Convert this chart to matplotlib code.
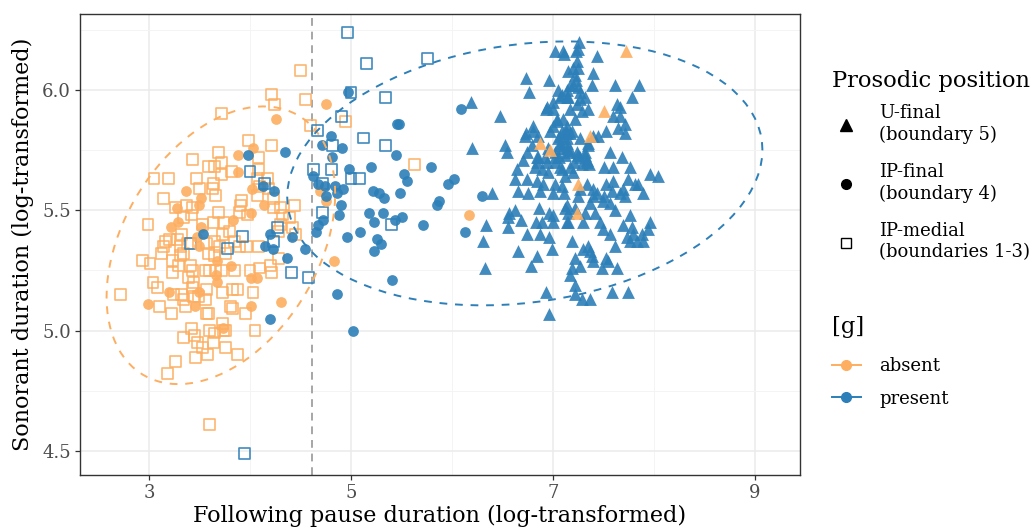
import numpy as np
import matplotlib
matplotlib.use("Agg")
import matplotlib.pyplot as plt
from matplotlib.lines import Line2D

plt.rcParams['font.family'] = ['DejaVu Serif']

# ---------------- data ----------------
# IP-medial (boundaries 1-3), [g] absent
sq_abs_x = [4.21,4.24,3.72,4.55,4.95,4.60,4.50,3.99,4.21,4.08,3.69,3.43,3.72,3.59,3.65,3.82,4.08,3.72,
            3.05,3.19,3.47,3.64,3.63,3.50,4.07,4.17,4.18,4.07,4.09,3.66,3.14,3.92,3.91,4.23,4.30,4.44,
            3.26,3.37,3.43,3.34,3.42,3.69,3.90,3.98,4.23,4.32,4.39,2.99,3.32,3.28,3.64,3.74,3.53,3.80,3.73,
            4.30,4.28,4.42,3.16,3.20,3.14,3.31,3.38,3.34,3.57,3.65,3.70,3.85,3.90,3.97,4.08,
            3.59,3.65,3.76,3.12,3.23,3.31,2.94,3.01,3.29,3.41,3.43,3.60,3.66,3.72,3.56,
            3.85,4.00,4.09,4.21,3.23,3.39,3.44,3.04,3.08,3.24,3.32,3.34,3.43,3.44,3.49,3.56,
            3.57,3.73,3.83,3.88,4.03,3.10,3.22,3.36,3.57,3.59,3.81,3.83,3.96,
            3.42,3.34,3.45,3.48,3.60,3.65,3.73,3.74,3.76,3.64,3.76,3.53,3.58,4.05,3.88,3.26,3.46,3.18,
            2.72,3.60,5.63,4.28,4.20,4.45]
sq_abs_y = [5.98,5.94,5.90,5.96,5.87,5.85,6.08,5.79,5.77,5.72,5.74,5.71,5.70,5.68,5.68,5.66,5.67,5.65,
            5.63,5.63,5.63,5.61,5.59,5.59,5.63,5.63,5.59,5.56,5.60,5.56,5.55,5.54,5.52,5.55,5.51,5.52,
            5.51,5.52,5.51,5.47,5.48,5.49,5.49,5.48,5.51,5.48,5.47,5.44,5.40,5.38,5.45,5.45,5.44,5.41,5.40,
            5.44,5.41,5.43,5.37,5.38,5.35,5.35,5.36,5.32,5.36,5.37,5.35,5.37,5.35,5.35,5.35,
            5.32,5.31,5.32,5.32,5.29,5.31,5.29,5.28,5.27,5.27,5.25,5.25,5.25,5.25,5.25,
            5.25,5.25,5.26,5.24,5.24,5.22,5.20,5.20,5.18,5.15,5.15,5.13,5.18,5.14,5.14,5.13,
            5.17,5.16,5.17,5.17,5.16,5.10,5.07,5.10,5.07,5.07,5.10,5.09,5.07,
            5.01,4.97,4.98,4.95,5.00,4.99,5.03,5.00,5.00,4.95,4.93,4.93,4.90,5.00,4.90,4.87,4.89,4.82,
            5.15,4.61,5.69,5.30,5.27,5.40]

# IP-medial, [g] present
sq_pre_x = [4.97,5.15,5.76,5.00,5.34,4.91,4.67,5.12,4.82,5.34,4.63,4.81,5.00,5.08,4.72,4.72,5.40,4.58,3.95,
            4.00,4.14,3.93,3.78,3.41,4.27,4.23,4.41]
sq_pre_y = [6.24,6.11,6.13,5.99,5.97,5.89,5.83,5.80,5.77,5.77,5.67,5.67,5.63,5.63,5.61,5.49,5.44,5.22,4.49,
            5.66,5.61,5.39,5.34,5.36,5.43,5.37,5.24]

# IP-final (boundary 4), [g] absent
ci_abs_x = [4.26,4.03,3.88,3.37,3.52,3.50,3.28,3.29,3.22,4.01,3.83,4.02,3.88,4.14,3.52,3.48,3.50,3.67,3.81,
            3.66,4.01,4.07,3.67,3.20,3.50,2.99,3.46,4.01,4.31,3.73,4.83,4.75,4.75,6.17,4.69]
ci_abs_y = [5.88,5.76,5.73,5.58,5.55,5.52,5.51,5.45,5.43,5.49,5.46,5.59,5.66,5.52,5.43,5.39,5.35,5.29,5.27,
            5.23,5.22,5.22,5.20,5.16,5.16,5.11,5.10,5.10,5.12,5.01,5.29,5.54,5.94,5.48,5.58]

# IP-final, [g] present
ci_pre_x = [4.97,4.80,4.71,4.91,4.81,5.45,5.46,5.48,5.20,4.98,4.62,4.67,4.74,4.84,4.92,4.86,4.75,4.90,4.88,
            4.72,4.67,4.65,4.96,5.09,5.22,5.28,5.33,5.49,5.53,5.55,5.79,5.18,5.23,5.32,5.44,5.51,5.71,
            5.26,5.30,5.23,5.85,5.87,5.96,6.02,6.09,6.13,6.30,4.54,4.86,5.41,5.02,
            3.98,4.35,4.24,4.13,4.42,4.20,4.15,4.23,3.53,4.37,4.20]
ci_pre_y = [5.99,5.81,5.77,5.76,5.72,5.73,5.86,5.86,5.68,5.67,5.64,5.61,5.60,5.60,5.59,5.57,5.56,5.52,5.48,
            5.46,5.44,5.41,5.39,5.41,5.58,5.57,5.55,5.57,5.65,5.62,5.68,5.49,5.45,5.49,5.46,5.47,5.44,
            5.38,5.36,5.33,5.52,5.54,5.61,5.63,5.92,5.41,5.56,5.34,5.15,5.21,5.00,
            5.73,5.74,5.58,5.60,5.39,5.40,5.35,5.34,5.40,5.30,5.05]

# U-final (boundary 5), [g] absent
tr_abs_x = [7.72,7.51,7.37,7.25,7.24,6.97,6.87]
tr_abs_y = [6.16,5.91,5.81,5.61,5.49,5.75,5.78]

# U-final, [g] present
tr_pre_x = [6.19,6.48,6.20,6.53,6.54,6.73,6.76,6.96,7.02,7.10,
            6.40,6.56,6.55,6.55,6.62,6.68,6.34,6.31,6.33,6.74,6.65,6.84,6.78,
            6.83,6.89,6.87,6.96,6.99,6.93,6.96,6.86,6.96,7.00,7.00,7.14,7.14,
            6.65,6.75,6.87,7.00,6.74,6.84,6.90,7.02,7.12,6.64,6.62,
            6.82,6.89,6.95,7.07,6.84,6.92,7.02,6.70,6.74,
            6.72,6.80,6.85,6.79,6.95,7.07,
            6.97,7.04,7.07,7.14,6.94,7.00,7.07,7.14,6.93,7.00,7.05,7.14,7.15,
            7.26,7.25,7.23,7.11,7.44,7.20,7.25,7.22,7.23,7.20,7.40,
            7.17,7.25,7.27,7.39,7.61,7.85,7.78,7.09,7.15,7.27,7.32,
            7.17,7.24,7.29,7.35,7.63,7.66,7.59,7.66,
            7.22,7.14,7.09,7.13,7.71,7.64,7.71,7.53,7.40,7.45,
            7.27,7.35,7.35,7.14,7.14,7.09,
            7.17,7.24,7.27,7.32,7.34,7.56,7.68,7.51,7.59,7.76,
            7.17,7.20,7.09,7.74,7.81,7.84,7.96,8.04,
            7.53,7.59,7.58,7.51,7.66,7.69,7.71,7.89,
            7.34,7.40,7.40,7.44,7.09,7.11,7.27,7.25,
            7.50,7.56,7.61,7.37,7.12,7.22,7.15,7.32,7.42,
            7.76,7.69,7.78,7.96,7.94,7.15,7.30,7.47,7.50,7.56,
            7.73,7.79,7.88,7.76,7.83,7.89,7.19,7.30,7.35,7.37,7.61,
            7.22,7.39,7.40,7.53,7.54,7.19,7.27,7.17,7.49,7.63,
            7.22,7.22,7.29,7.37,7.58,7.74,
            6.73,6.80,7.24,7.10,7.04,7.00,7.17,7.12,7.19,7.05,7.07,7.14,7.15,7.12,7.02,7.06,7.02,
            7.25,7.32,7.34,7.29,7.36,7.21,6.85,6.84,6.94]
tr_pre_y = [5.95,5.89,5.76,5.77,5.74,6.05,5.99,6.04,6.16,6.16,
            5.57,5.49,5.47,5.43,5.50,5.46,5.44,5.37,5.26,5.40,5.33,5.31,5.27,
            5.45,5.45,5.40,5.39,5.34,5.16,5.07,5.51,5.49,5.48,5.45,5.52,5.45,
            5.58,5.57,5.58,5.57,5.63,5.62,5.61,5.61,5.64,5.67,5.63,
            5.68,5.67,5.66,5.68,5.72,5.72,5.72,5.71,5.74,
            5.81,5.83,5.81,5.77,5.76,5.77,
            5.83,5.87,5.81,5.82,5.93,5.95,5.97,5.97,5.92,5.92,6.00,6.00,6.08,
            6.20,6.17,6.16,6.15,6.14,6.09,6.09,6.06,6.04,6.02,6.07,
            6.02,6.01,5.99,6.02,6.02,6.02,5.97,5.98,5.97,5.96,5.97,
            5.92,5.94,5.91,5.92,5.94,5.93,5.89,5.89,
            5.88,5.85,5.83,5.83,5.86,5.84,5.82,5.83,5.81,5.81,
            5.80,5.78,5.77,5.80,5.78,5.76,
            5.75,5.74,5.72,5.73,5.71,5.74,5.72,5.68,5.68,5.68,
            5.68,5.66,5.67,5.63,5.61,5.61,5.65,5.64,
            5.61,5.62,5.58,5.56,5.57,5.59,5.56,5.57,
            5.61,5.59,5.56,5.57,5.60,5.57,5.59,5.56,
            5.54,5.53,5.50,5.53,5.51,5.51,5.49,5.49,5.49,
            5.48,5.44,5.43,5.45,5.42,5.45,5.45,5.45,5.42,5.40,
            5.39,5.40,5.40,5.37,5.37,5.37,5.37,5.34,5.35,5.33,5.35,
            5.30,5.31,5.29,5.30,5.29,5.26,5.27,5.23,5.26,5.26,
            5.19,5.15,5.13,5.13,5.16,5.16,
            5.82,5.85,6.12,5.88,5.88,5.85,5.82,5.82,5.83,5.80,5.78,5.76,5.74,5.73,5.74,5.72,5.70,
            5.73,5.74,5.70,5.69,5.69,5.70,5.72,5.70,5.70]

threshold_x = 4.61
x_ticks = [3, 5, 7, 9]
y_ticks = [4.5, 5.0, 5.5, 6.0]

ORANGE = "#FDAE61"
BLUE = "#2C7FB8"

# ---------------- robust (t) ellipse like ggplot2::stat_ellipse ----------------
def cov_trob(X, nu=5, maxit=50, tol=0.01):
    n, p = X.shape
    loc = X.mean(axis=0)
    w = np.ones(n)
    for _ in range(maxit):
        w0 = w
        Xc = X - loc
        S = (Xc * w[:, None]).T @ Xc / w.sum()
        Q = np.einsum('ij,jk,ik->i', Xc, np.linalg.inv(S), Xc)
        w = (nu + p) / (nu + Q)
        loc = (w[:, None] * X).sum(axis=0) / w.sum()
        if np.all(np.abs(w - w0) < tol):
            break
    Xc = X - loc
    cov = (Xc * w[:, None]).T @ Xc / n
    return loc, cov

def ellipse_pts(x, y, level=0.95, segments=101):
    X = np.column_stack([x, y])
    n = len(X)
    loc, cov = cov_trob(X)
    dfd = n - 1
    fq = (dfd / 2.0) * ((1 - level) ** (-2.0 / dfd) - 1)
    radius = np.sqrt(2 * fq)
    ang = np.linspace(0, 2 * np.pi, segments)
    circ = np.column_stack([np.cos(ang), np.sin(ang)])
    chol = np.linalg.cholesky(cov).T  # upper triangular like R chol()
    pts = loc + radius * circ @ chol
    return pts[:, 0], pts[:, 1]

# ---------------- figure ----------------
fig = plt.figure(figsize=(10.32, 5.28), dpi=100)
ax = fig.add_axes([80/1032, 53/528, 720/1032, 461/528])

ax.set_xlim(2.317, 9.446)
ax.set_ylim(4.40, 6.315)
ax.set_xticks(x_ticks)
ax.set_yticks(y_ticks)
ax.set_yticklabels([f"{v:.1f}" for v in y_ticks])
ax.set_xticks([4, 6, 8], minor=True)
ax.set_yticks([4.75, 5.25, 5.75, 6.25], minor=True)
ax.grid(True, which='major', color='#EBEBEB', lw=1.1, zorder=0)
ax.grid(True, which='minor', color='#F4F4F4', lw=0.7, zorder=0)
ax.tick_params(which='minor', length=0)
ax.tick_params(which='major', length=3.5, width=0.9, color='#333333',
               labelsize=13, labelcolor='#4D4D4D', pad=3)
for s in ax.spines.values():
    s.set_color('#333333')
    s.set_linewidth(1.0)
ax.set_axisbelow(True)

ax.axvline(threshold_x, color='#A6A6A6', ls=(0, (4, 3)), lw=1.4, zorder=1)

ms_sq = 62
ms_ci = 60
ms_tr = 85
alpha = 0.9
ax.scatter(sq_abs_x, sq_abs_y, marker='s', facecolors='none', edgecolors=ORANGE, s=ms_sq, linewidths=1.2, alpha=alpha, zorder=2)
ax.scatter(sq_pre_x, sq_pre_y, marker='s', facecolors='none', edgecolors=BLUE, s=ms_sq, linewidths=1.2, alpha=alpha, zorder=2)
ax.scatter(ci_abs_x, ci_abs_y, marker='o', color=ORANGE, s=ms_ci, linewidths=0, alpha=alpha, zorder=2)
ax.scatter(ci_pre_x, ci_pre_y, marker='o', color=BLUE, s=ms_ci, linewidths=0, alpha=alpha, zorder=2)
ax.scatter(tr_pre_x, tr_pre_y, marker='^', color=BLUE, s=ms_tr, linewidths=0, alpha=alpha, zorder=2)
ax.scatter(tr_abs_x, tr_abs_y, marker='^', color=ORANGE, s=ms_tr, linewidths=0, alpha=alpha, zorder=2)

# ellipses per [g] group
abs_x = sq_abs_x + ci_abs_x + tr_abs_x
abs_y = sq_abs_y + ci_abs_y + tr_abs_y
pre_x = sq_pre_x + ci_pre_x + tr_pre_x
pre_y = sq_pre_y + ci_pre_y + tr_pre_y
ex, ey = ellipse_pts(np.array(abs_x), np.array(abs_y))
ax.plot(ex, ey, color=ORANGE, ls=(0, (4, 4)), lw=1.4, zorder=3)
ex, ey = ellipse_pts(np.array(pre_x), np.array(pre_y))
ax.plot(ex, ey, color=BLUE, ls=(0, (4, 4)), lw=1.4, zorder=3)

ax.set_xlabel("Following pause duration (log-transformed)", fontsize=16, labelpad=2)
ax.set_ylabel("Sonorant duration (log-transformed)", fontsize=16, labelpad=6)

# legends
h1 = [Line2D([], [], marker='^', color='black', ls='None', markersize=8),
      Line2D([], [], marker='o', color='black', ls='None', markersize=7),
      Line2D([], [], marker='s', markerfacecolor='none', markeredgecolor='black', ls='None', markersize=7, markeredgewidth=1.0)]
l1 = ["U-final\n(boundary 5)", "IP-final\n(boundary 4)", "IP-medial\n(boundaries 1-3)"]
leg1 = fig.legend(h1, l1, title="Prosodic position", loc='upper left',
                  bbox_to_anchor=(832/1032, 1 - 70/528), frameon=False, fontsize=13,
                  title_fontsize=16.3, labelspacing=1.1, handletextpad=1.0, handlelength=1.6,
                  borderpad=0, borderaxespad=0, alignment='left')
leg1._legend_box.sep = 9
h2 = [Line2D([], [], marker='o', color=ORANGE, lw=1.4, markersize=7),
      Line2D([], [], marker='o', color=BLUE, lw=1.4, markersize=7)]
leg2 = fig.legend(h2, ["absent", "present"], title="[g]", loc='upper left',
                  bbox_to_anchor=(832/1032, 1 - 316/528), frameon=False, fontsize=13,
                  title_fontsize=16.3, labelspacing=0.78, handletextpad=1.0, handlelength=1.6,
                  borderpad=0, borderaxespad=0, alignment='left')
leg2._legend_box.sep = 14

fig.savefig("out.png", dpi=100)
